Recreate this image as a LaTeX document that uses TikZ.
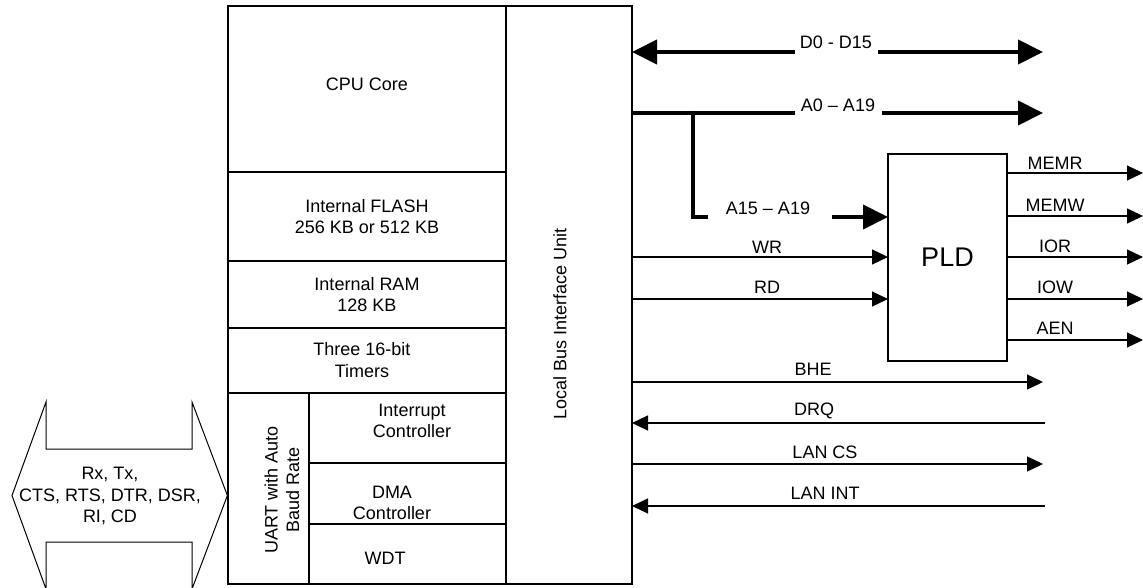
\documentclass[tikz,border=0pt]{standalone}
\usepackage{fontspec}
\setmainfont{Liberation Sans}
\usetikzlibrary{arrows.meta}
\tikzset{
  blk/.style={draw, line width=1.2pt, inner sep=0pt, outer sep=0pt, align=center},
  lbl/.style={inner sep=0pt, align=center},
  bus/.style={line width=4pt},
  sig/.style={line width=1.2pt},
  bigtip/.tip={Triangle[length=25pt,width=24pt]},
  smalltip/.tip={Triangle[length=16pt,width=15pt]},
}
\begin{document}
\begin{tikzpicture}[x=1pt,y=-1pt,font=\fontsize{18}{21.5}\selectfont]
\useasboundingbox (0,0) rectangle (1143,588);

% main blocks
\node[blk, minimum width=278, minimum height=166] (cpu) at (367,89) {};
\node[lbl] (cpulbl) at (367,84) {CPU Core};
\node[blk, minimum width=278, minimum height=89] (flash) at (367,216.5) {Internal FLASH\\256 KB or 512 KB};
\node[blk, minimum width=278, minimum height=67] (ram) at (367,294.5) {Internal RAM\\128 KB};
\node[blk, minimum width=278, minimum height=65] (tim) at (367,360.5) {};
\node[lbl] (timlbl) at (362,360) {Three 16-bit\\Timers};
\node[blk, minimum width=81, minimum height=191] (uart) at (268.5,488.5) {};
\node[lbl, rotate=90] (uartlbl) at (282,490) {UART with Auto\\Baud Rate};
\node[blk, minimum width=197, minimum height=70] (intc) at (407.5,428) {};
\node[lbl] (intclbl) at (412,421) {Interrupt\\Controller};
\node[blk, minimum width=197, minimum height=61] (dma) at (407.5,493.5) {};
\node[lbl] (dmalbl) at (392,503) {DMA\\Controller};
\node[blk, minimum width=197, minimum height=60] (wdt) at (407.5,554) {};
\node[lbl] (wdtlbl) at (385,558) {WDT};
\node[blk, minimum width=126, minimum height=578] (lbiu) at (569,295) {};
\node[lbl, rotate=90] (lbiulbl) at (560,324) {Local Bus Interface Unit};

% PLD
\node[blk, minimum width=119, minimum height=207, font=\fontsize{27}{30}\selectfont] (pld) at (947.5,257.5) {PLD};

% data bus
\coordinate (d0a) at (795,52);
\coordinate (d0b) at (878,52);
\coordinate (d0e) at (1043,52);
\draw[bus, bigtip-] (lbiu.east |- d0a) -- (d0a);
\draw[bus, -bigtip] (d0b) -- (d0e);
\node[lbl] (d0lbl) at (836,42) {D0 - D15};

% address bus
\coordinate (a0a) at (795,113);
\coordinate (a0b) at (882,113);
\coordinate (a0e) at (1043,113);
\draw[bus] (lbiu.east |- a0a) -- (a0a);
\draw[bus, -bigtip] (a0b) -- (a0e);
\node[lbl] (a0lbl) at (838,105) {A0 -- A19};

% A15-A19 branch
\coordinate (abr) at (693,111);
\coordinate (a15a) at (708,217);
\coordinate (a15b) at (832,217);
\draw[bus, line join=miter] (abr) |- (a15a);
\draw[bus, -bigtip] (a15b) -- (pld.west |- a15b);
\node[lbl] (a15lbl) at (768,208) {A15 -- A19};

% WR / RD
\coordinate (wr) at (888,257);
\coordinate (rd) at (888,299);
\draw[sig, -smalltip] (lbiu.east |- wr) -- (pld.west |- wr);
\node[lbl] (wrlbl) at (767,247) {WR};
\draw[sig, -smalltip] (lbiu.east |- rd) -- (pld.west |- rd);
\node[lbl] (rdlbl) at (767,287) {RD};

% PLD outputs
\coordinate (memr) at (1143,173);
\coordinate (memw) at (1143,216);
\coordinate (ior) at (1143,257);
\coordinate (iow) at (1143,299);
\coordinate (aen) at (1143,340);
\draw[sig, -smalltip] (pld.east |- memr) -- (memr);
\draw[sig, -smalltip] (pld.east |- memw) -- (memw);
\draw[sig, -smalltip] (pld.east |- ior) -- (ior);
\draw[sig, -smalltip] (pld.east |- iow) -- (iow);
\draw[sig, -smalltip] (pld.east |- aen) -- (aen);
\node[lbl] (memrlbl) at (1055,163) {MEMR};
\node[lbl] (memwlbl) at (1055,205) {MEMW};
\node[lbl] (iorlbl) at (1055,246) {IOR};
\node[lbl] (iowlbl) at (1055,287) {IOW};
\node[lbl] (aenlbl) at (1055,328) {AEN};

% lower signals
\coordinate (bhe) at (1043,382);
\coordinate (drq) at (1045,423);
\coordinate (lancs) at (1043,464);
\coordinate (lanint) at (1045,506);
\draw[sig, -smalltip] (lbiu.east |- bhe) -- (bhe);
\draw[sig, -smalltip] (drq) -- (lbiu.east |- drq);
\draw[sig, -smalltip] (lbiu.east |- lancs) -- (lancs);
\draw[sig, -smalltip] (lanint) -- (lbiu.east |- lanint);
\node[lbl] (bhelbl) at (813,369) {BHE};
\node[lbl] (drqlbl) at (814,411) {DRQ};
\node[lbl] (lancslbl) at (825,452) {LAN CS};
\node[lbl] (lanintlbl) at (825,493) {LAN INT};

% serial double arrow
\draw[line width=1pt, line join=miter]
  (12,495.5) -- (46,402) -- (46,449) -- (192,449) -- (192,402) -- (227.4,495.5)
  -- (192,589) -- (192,542) -- (46,542) -- (46,589) -- cycle;
\node[lbl] (serlbl) at (110,496) {Rx, Tx,\\CTS, RTS, DTR, DSR,\\RI, CD};
\end{tikzpicture}
\end{document}
